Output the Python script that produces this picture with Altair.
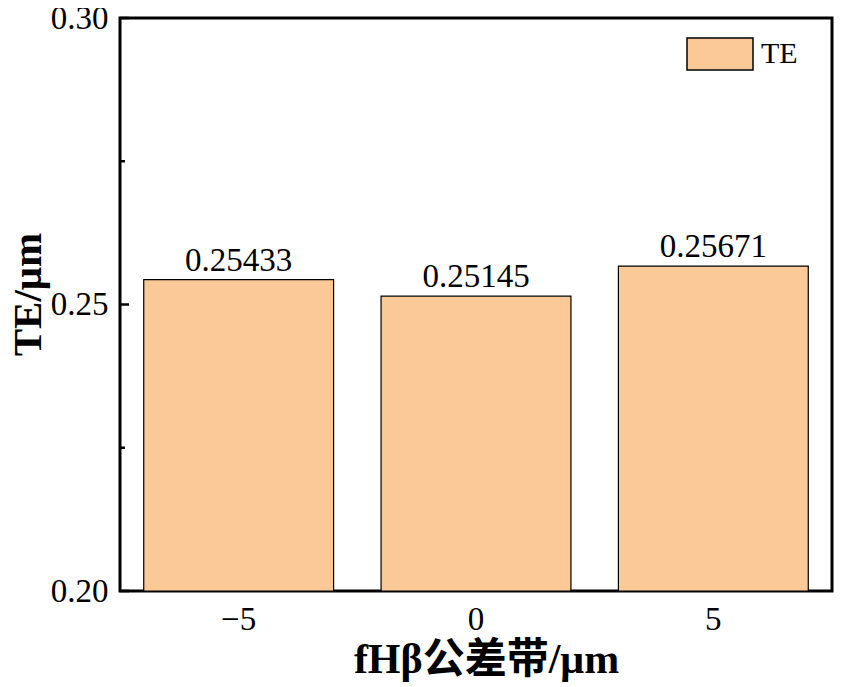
import altair as alt
import pandas as pd

categories = ["−5", "0", "5"]
values = [0.25433, 0.25145, 0.25671]
series = ["TE", "TE", "TE"]
tick_values = [0.20, 0.225, 0.25, 0.275, 0.30]
tick_major = [True, False, True, False, True]

df = pd.DataFrame({"cat": categories, "val": values, "series": series})
ticks = pd.DataFrame({"v": tick_values, "major": tick_major})

FONT = "Liberation Serif"
FILL = "#FBC998"

yscale = alt.Scale(domain=[0.2, 0.3], zero=False, nice=False)
xscale = alt.Scale(paddingInner=0.2, paddingOuter=0.1)

x_enc = alt.X("cat:N", sort=categories, scale=xscale,
              axis=alt.Axis(title="fHβ公差带/μm", labelAngle=0, ticks=False, domain=False,
                            labelFontSize=33, labelPadding=12, titleFontSize=42,
                            titleFontWeight="bold", titlePadding=3, titleX=366,
                            titleFont="Liberation Serif, Noto Sans CJK SC"))
y_enc = alt.Y("val:Q", scale=yscale,
              axis=alt.Axis(title="TE/μm", values=[0.2, 0.25, 0.3], format=".2f",
                            ticks=False, domain=False, labelFontSize=33, labelPadding=12,
                            titleFontSize=41, titleFontWeight="bold", titlePadding=1,
                            titleY=276))

bars = alt.Chart(df).mark_bar(stroke="black", strokeWidth=1.2).encode(
    x=x_enc,
    y=y_enc,
    y2=alt.datum(0.2),
    color=alt.Color("series:N", scale=alt.Scale(range=[FILL]),
                    legend=alt.Legend(title=None, orient="none", legendX=566, legendY=2,
                                      symbolType="M-1,-0.485H1V0.485H-1Z", symbolSize=4356,
                                      symbolStrokeColor="black", symbolStrokeWidth=1.5,
                                      symbolFillColor=FILL, labelFontSize=30, labelFont=FONT,
                                      labelOffset=7, padding=0)),
)

labels = alt.Chart(df).mark_text(baseline="alphabetic", dy=-9, fontSize=33, font=FONT,
                                 color="black").encode(
    x=alt.X("cat:N", sort=categories, scale=xscale),
    y=alt.Y("val:Q", scale=yscale),
    text=alt.Text("val:Q", format=".5f"),
)

major_ticks = alt.Chart(ticks).transform_filter("datum.major").mark_rule(
    color="black", strokeWidth=2.5).encode(
    y=alt.Y("v:Q", scale=yscale), x=alt.value(0), x2=alt.value(9))
minor_ticks = alt.Chart(ticks).transform_filter("!datum.major").mark_rule(
    color="black", strokeWidth=2.5).encode(
    y=alt.Y("v:Q", scale=yscale), x=alt.value(0), x2=alt.value(5))

chart = alt.layer(bars, labels, major_ticks, minor_ticks).properties(
    width=712, height=573,
    autosize=alt.AutoSizeParams(type="none"),
    padding={"left": 112, "top": 10, "right": 8, "bottom": 104},
).configure(font=FONT).configure_view(
    stroke="black", strokeWidth=3
).configure_axis(labelColor="black", titleColor="black", labelFont=FONT, titleFont=FONT, grid=False)

chart.save("out.html", embed_options={"renderer": "svg", "actions": False})
